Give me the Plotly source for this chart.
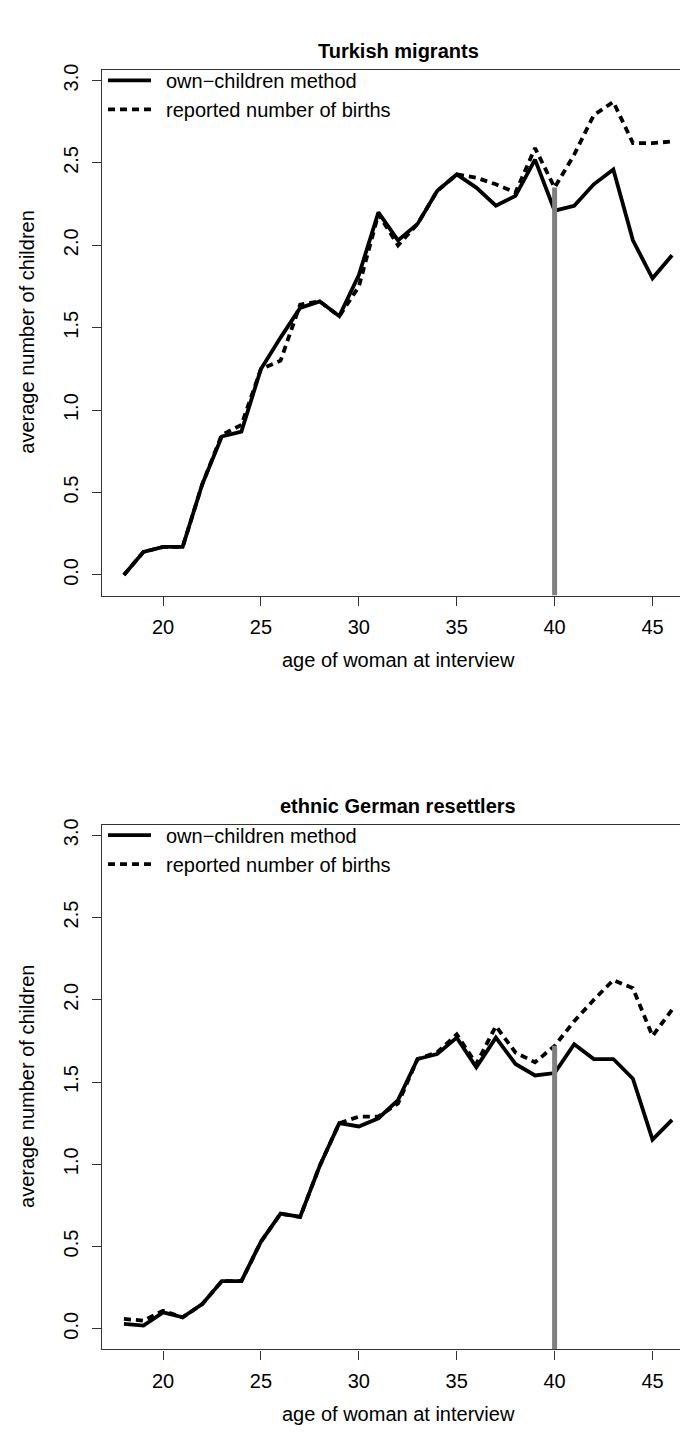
import plotly.graph_objects as go

ages = list(range(18, 47))

# Turkish migrants
tur_own = [0.00, 0.14, 0.17, 0.17, 0.55, 0.84, 0.87, 1.25, 1.44, 1.62, 1.66, 1.57, 1.82,
           2.20, 2.03, 2.13, 2.33, 2.43, 2.35, 2.24, 2.30, 2.52, 2.21, 2.24, 2.37, 2.46,
           2.03, 1.80, 1.94]
tur_rep = [0.00, 0.14, 0.17, 0.17, 0.55, 0.85, 0.91, 1.25, 1.30, 1.64, 1.66, 1.57, 1.75,
           2.19, 2.00, 2.13, 2.33, 2.43, 2.41, 2.37, 2.32, 2.59, 2.35, 2.55, 2.79, 2.87,
           2.62, 2.62, 2.63]

# ethnic German resettlers
ger_own = [0.03, 0.02, 0.10, 0.07, 0.15, 0.29, 0.29, 0.53, 0.70, 0.68, 0.99, 1.25, 1.23,
           1.28, 1.39, 1.64, 1.67, 1.77, 1.59, 1.77, 1.61, 1.54, 1.555, 1.73, 1.64, 1.64,
           1.52, 1.15, 1.27]
ger_rep = [0.06, 0.05, 0.11, 0.07, 0.15, 0.29, 0.29, 0.53, 0.70, 0.68, 0.99, 1.25, 1.29,
           1.29, 1.37, 1.64, 1.68, 1.79, 1.61, 1.84, 1.68, 1.62, 1.72, 1.87, 2.00, 2.12,
           2.07, 1.78, 1.94]

panel_titles = ["Turkish migrants", "ethnic German resettlers"]
legend_names = ["own\u2212children method", "reported number of births"]
x_ticks = [20, 25, 30, 35, 40, 45]
y_ticks = [0.0, 0.5, 1.0, 1.5, 2.0, 2.5, 3.0]
marker_age = 40

W, H = 688, 1436
FONT = "Liberation Sans, Arial, sans-serif"
YR = [-0.125, 3.065]
XR = [16.88, 47.12]

# panel boxes in pixels (left, right, top, bottom)
boxes = [(94, 686, 56, 584), (94, 686, 814, 1341)]

fig = go.Figure()
series = [(tur_own, tur_rep), (ger_own, ger_rep)]
for i, (own, rep) in enumerate(series):
    xa = "x" if i == 0 else "x2"
    ya = "y" if i == 0 else "y2"
    lg = "legend" if i == 0 else "legend2"
    fig.add_trace(go.Scatter(x=ages, y=own, mode="lines", name="\u2002" + legend_names[0],
                             line=dict(color="black", width=3.8), xaxis=xa, yaxis=ya,
                             legend=lg))
    fig.add_trace(go.Scatter(x=ages, y=rep, mode="lines", name="\u2002" + legend_names[1],
                             line=dict(color="black", width=3.8, dash="7px,5px"),
                             xaxis=xa, yaxis=ya, legend=lg))
    v40 = rep[ages.index(marker_age)]
    fig.add_trace(go.Scatter(x=[marker_age, marker_age], y=[YR[0], v40], mode="lines",
                             line=dict(color="#808080", width=5), xaxis=xa, yaxis=ya,
                             showlegend=False, hoverinfo="skip"))

axis_common = dict(showline=True, linecolor="#333333", linewidth=1.3, mirror=True,
                   ticks="outside", ticklen=9, tickwidth=1.3, tickcolor="#333333",
                   showgrid=False, zeroline=False,
                   tickfont=dict(family=FONT, size=20, color="black"))

layout = dict(width=W, height=H, margin=dict(l=0, r=0, t=0, b=0),
              plot_bgcolor="white", paper_bgcolor="white", showlegend=True)
ann = []
for i, (l, r, t, b) in enumerate(boxes):
    sfx = "" if i == 0 else "2"
    xd = [l / W, r / W]
    yd = [1 - b / H, 1 - t / H]
    layout["xaxis" + sfx] = dict(domain=xd, range=XR, tickvals=x_ticks,
                                 ticklabelstandoff=4, anchor="y" + sfx, **axis_common)
    layout["yaxis" + sfx] = dict(domain=yd, range=YR, tickvals=y_ticks,
                                 ticktext=[f"{v:.1f}" for v in y_ticks], tickangle=-90,
                                 ticklabelstandoff=6, anchor="x" + sfx, **axis_common)
    layout["legend" + sfx] = dict(x=(l + 1) / W, y=1 - (t - 9) / H, xanchor="left",
                                  yanchor="top", bgcolor="rgba(0,0,0,0)",
                                  font=dict(family=FONT, size=20, color="black"),
                                  tracegroupgap=0, itemwidth=43)
    cx = (l + r) / 2 / W
    ann.append(dict(text="<b>" + panel_titles[i] + "</b>", x=cx, y=1 - (t - 19) / H,
                    xref="paper", yref="paper", showarrow=False, xanchor="center",
                    yanchor="middle", font=dict(family=FONT, size=20, color="black")))
    ann.append(dict(text="age of woman at interview", x=cx, y=1 - (b + 65) / H,
                    xref="paper", yref="paper", showarrow=False, xanchor="center",
                    yanchor="middle", font=dict(family=FONT, size=20, color="black")))
    ann.append(dict(text="average number of children", x=19 / W, y=1 - (t + b) / 2 / H,
                    xref="paper", yref="paper", showarrow=False, xanchor="center",
                    yanchor="middle", textangle=-90,
                    font=dict(family=FONT, size=20, color="black")))
layout["annotations"] = ann
fig.update_layout(**layout)
fig.write_html("out.html")
